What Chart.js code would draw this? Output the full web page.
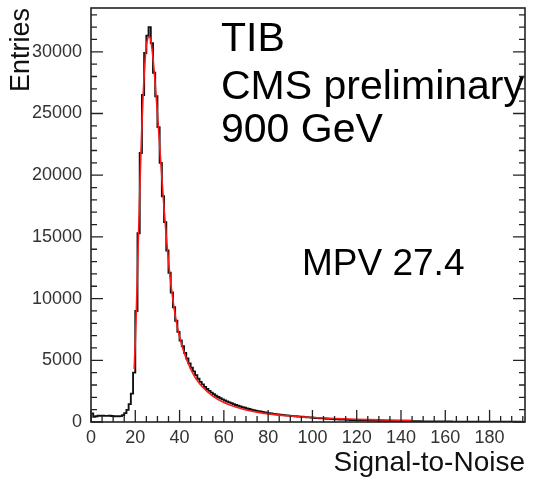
<!DOCTYPE html>
<html>
<head>
<meta charset="utf-8">
<script src="https://cdn.jsdelivr.net/npm/chart.js@4/dist/chart.umd.min.js"></script>
<style>
  html, body { margin: 0; padding: 0; background: #ffffff; }
  #wrap { width: 534px; height: 481px; position: relative; }
</style>
</head>
<body>
<div id="wrap"><canvas id="c" width="534" height="481"></canvas></div>
<script>
// Signal-to-noise histogram, 1-unit bins starting at 0
const binStart = 0;
const binWidth = 1;
const entries = [
  700, 420, 470, 510, 500, 505, 495, 500, 510, 490,
  470, 475, 470, 480, 560, 720, 980, 1450, 2300, 4000,
  9000, 15300, 21800, 26500, 29900, 31300, 32000, 30700, 28300, 26400,
  23900, 21000, 18300, 16200, 13900, 12100, 10500, 9300, 8200, 7300,
  6600, 6150, 5600, 5150, 4750, 4400, 4100, 3800, 3500, 3250,
  3050, 2850, 2680, 2520, 2380, 2250, 2130, 2020, 1920, 1830,
  1740, 1660, 1590, 1520, 1450, 1380, 1320, 1260, 1200, 1150,
  1100, 1050, 1000, 960, 920, 880, 845, 810, 780, 750,
  720, 690, 660, 640, 615, 595, 575, 555, 535, 515,
  495, 480, 465, 450, 435, 420, 405, 390, 375, 360,
  345, 330, 318, 305, 292, 280, 268, 256, 245, 235,
  225, 215, 206, 198, 190, 182, 175, 168, 161, 155,
  149, 143, 138, 133, 128, 123, 118, 114, 110, 106,
  102, 98, 95, 92, 89, 86, 83, 80, 77, 74,
  72, 70, 67, 65, 63, 61, 59, 57, 55, 53,
  51, 50, 48, 47, 45, 44, 42, 41, 40, 39,
  37, 36, 35, 34, 33, 32, 31, 30, 29, 28,
  28, 27, 26, 25, 25, 24, 23, 23, 22, 21,
  21, 20, 20, 19, 19, 18, 18, 17, 17, 16,
  16, 15, 15, 15, 14, 14, 13
];

// Landau fit curve
const fitX = [19.5, 20, 20.5, 21, 21.5, 22, 22.5, 23, 23.5, 24, 24.5, 25, 25.5, 26, 26.5,
              27, 27.5, 28, 28.5, 29, 29.5, 30, 31, 32, 33, 34, 35, 36, 37, 38, 39, 40,
              42, 44, 46, 48, 50, 55, 60, 65, 70, 75, 80, 85, 90, 95, 100, 110, 120, 130, 140, 145];
const fitY = [4300, 6500, 9200, 12300, 15500, 18600, 21500, 24100, 26300, 28100, 29500, 30500, 31000, 31200, 31200,
              30900, 30300, 29500, 28500, 27400, 26200, 25000, 22400, 19800, 17300, 15000, 13000, 11300, 9900, 8700, 7700, 6900,
              5650, 4700, 3950, 3350, 2900, 2100, 1580, 1230, 980, 800, 660, 560, 480, 415, 360, 280, 220, 175, 140, 125];

// Axis ranges, labelled ticks and minor tick spacing
const xRange = [0, 196];
const yRange = [0, 33550];
const xTickValues = [0, 20, 40, 60, 80, 100, 120, 140, 160, 180];
const yTickValues = [0, 5000, 10000, 15000, 20000, 25000, 30000];
const xMajor = 20, xMinor = 5;
const yMajor = 5000, yMinor = 1000;

// Text placed inside the frame
const infoLines = ['TIB', 'CMS preliminary', '900 GeV'];
const mpvLabel = 'MPV 27.4';

const FONT = "'Liberation Sans', Arial, sans-serif";

// Histogram outline: each bin contributes its left and right edge at the bin height
const histPoints = [{ x: binStart, y: 0 }];
entries.forEach((v, i) => {
  const lo = binStart + i * binWidth;
  histPoints.push({ x: lo, y: v });
  histPoints.push({ x: lo + binWidth, y: v });
});

const fitPoints = fitX.map((x, i) => ({ x, y: fitY[i] }));

// ROOT-style frame with inward ticks on bottom, left and right, plus text labels
const rootFrame = {
  id: 'rootFrame',
  afterDraw(chart) {
    const { ctx, chartArea: a, scales: { x, y } } = chart;
    ctx.save();
    ctx.strokeStyle = '#222';
    ctx.lineWidth = 1.3;
    ctx.beginPath();
    for (let v = xRange[0]; v <= xRange[1]; v += xMinor) {
      const px = x.getPixelForValue(v);
      const len = v % xMajor === 0 ? 12 : 6;
      ctx.moveTo(px, a.bottom);
      ctx.lineTo(px, a.bottom - len);
    }
    for (let v = yRange[0]; v <= yRange[1]; v += yMinor) {
      const py = y.getPixelForValue(v);
      const len = v % yMajor === 0 ? 12 : 6;
      ctx.moveTo(a.left, py);
      ctx.lineTo(a.left + len, py);
      ctx.moveTo(a.right, py);
      ctx.lineTo(a.right - len, py);
    }
    ctx.stroke();
    ctx.lineWidth = 1.6;
    ctx.strokeRect(a.left, a.top, a.right - a.left, a.bottom - a.top);

    ctx.fillStyle = '#000';
    ctx.textAlign = 'left';
    ctx.textBaseline = 'alphabetic';
    ctx.font = '41px ' + FONT;
    const baselines = [51, 99, 142];
    infoLines.forEach((t, i) => ctx.fillText(t, 221, baselines[i]));
    ctx.font = '37px ' + FONT;
    ctx.fillText(mpvLabel, 302, 275);
    ctx.restore();
  }
};

new Chart(document.getElementById('c'), {
  type: 'line',
  data: {
    datasets: [
      {
        label: 'fit',
        data: fitPoints,
        borderColor: '#ff1a1a',
        borderWidth: 1.6,
        pointRadius: 0,
        fill: false,
        cubicInterpolationMode: 'monotone'
      },
      {
        label: 'hist',
        data: histPoints,
        borderColor: '#111',
        borderWidth: 1.9,
        pointRadius: 0,
        fill: false,
        tension: 0
      }
    ]
  },
  options: {
    responsive: false,
    animation: false,
    devicePixelRatio: 1,
    layout: { padding: { top: 8, right: 9, left: 0, bottom: 0 } },
    plugins: { legend: { display: false }, tooltip: { enabled: false } },
    scales: {
      x: {
        type: 'linear',
        min: xRange[0],
        max: xRange[1],
        grid: { display: false, drawTicks: false },
        border: { display: false },
        afterBuildTicks(scale) { scale.ticks = xTickValues.map(v => ({ value: v })); },
        ticks: {
          maxRotation: 0,
          autoSkip: false,
          padding: 5,
          color: '#333',
          font: { family: FONT, size: 18 },
          callback: v => String(v)
        },
        title: {
          display: true,
          text: 'Signal-to-Noise',
          align: 'end',
          color: '#111',
          font: { family: FONT, size: 28 },
          padding: { top: 0, bottom: 1 }
        },
        afterFit(scale) {
          scale.height = 59;
          scale.paddingLeft = 0;
          scale.paddingRight = 0;
        }
      },
      y: {
        type: 'linear',
        min: yRange[0],
        max: yRange[1],
        grid: { display: false, drawTicks: false },
        border: { display: false },
        afterBuildTicks(scale) { scale.ticks = yTickValues.map(v => ({ value: v })); },
        ticks: {
          autoSkip: false,
          padding: 9,
          color: '#333',
          font: { family: FONT, size: 18 },
          callback: v => String(v)
        },
        title: {
          display: true,
          text: 'Entries',
          align: 'end',
          color: '#111',
          font: { family: FONT, size: 27 },
          padding: { top: 5, bottom: 0 }
        },
        afterFit(scale) {
          scale.width = 91;
          scale.paddingTop = 0;
          scale.paddingBottom = 0;
        }
      }
    }
  },
  plugins: [rootFrame]
});
</script>
</body>
</html>
